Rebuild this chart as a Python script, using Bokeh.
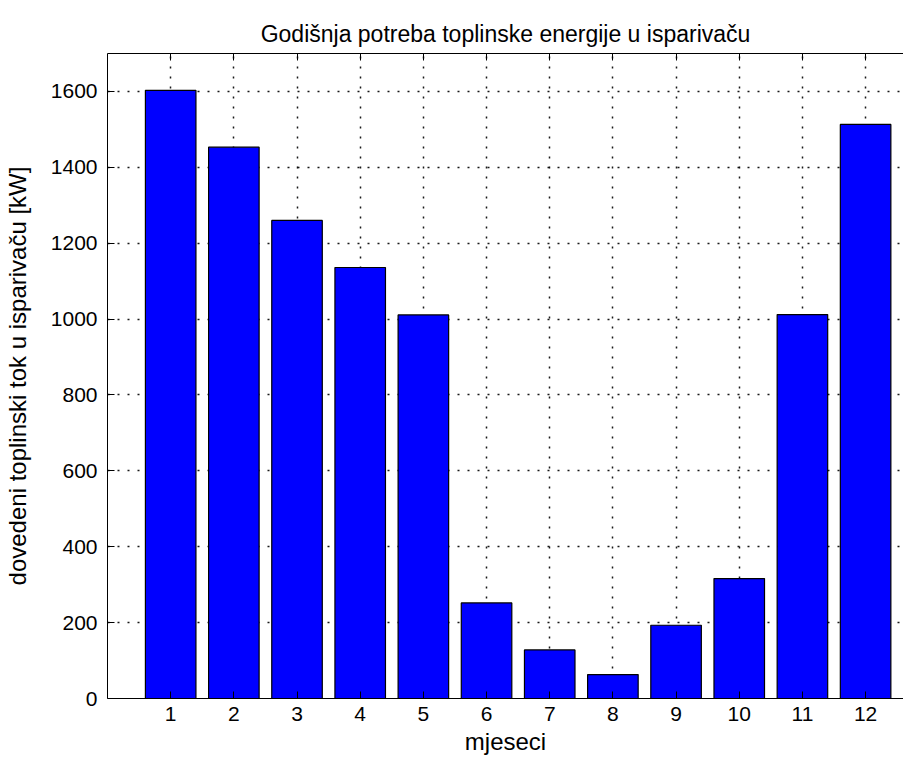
from bokeh.plotting import figure
from bokeh.models import LinearAxis, FixedTicker, Range1d, ColumnDataSource
from bokeh.embed import file_html
from bokeh.resources import INLINE

months = [1, 2, 3, 4, 5, 6, 7, 8, 9, 10, 11, 12]
heat_flow_kw = [1603, 1453, 1260, 1136, 1011, 252, 128, 63, 193, 316, 1012, 1513]
y_ticks = [0, 200, 400, 600, 800, 1000, 1200, 1400, 1600]

title_text = "Godišnja potreba toplinske energije u isparivaču"
x_label = "mjeseci"
y_label = "dovedeni toplinski tok u isparivaču [kW]"

FONT = "Liberation Sans"

src = ColumnDataSource(dict(x=months, top=heat_flow_kw))

p = figure(width=903, height=760, output_backend="svg", toolbar_location=None,
           x_range=Range1d(0, 12.6), y_range=Range1d(0, 1700),
           min_border_left=104, min_border_right=0, min_border_top=53, min_border_bottom=62,
           title=title_text)

p.title.align = "center"
p.title.text_font = FONT
p.title.text_font_size = "23px"
p.title.text_font_style = "normal"
p.title.text_color = "black"
p.title.standoff = 14

p.outline_line_color = None
p.background_fill_color = "white"
p.border_fill_color = "white"

p.vbar(x="x", top="top", width=0.8, bottom=0, source=src,
       fill_color="#0000FF", line_color="black", line_width=1.2)

for ax in (p.xaxis[0], p.yaxis[0]):
    ax.major_tick_in = 7
    ax.major_tick_out = 0
    ax.minor_tick_line_color = None
    ax.axis_line_color = "black"
    ax.major_tick_line_color = "black"
    ax.major_label_text_font = FONT
    ax.major_label_text_font_size = "21px"
    ax.major_label_text_color = "black"
    ax.axis_label_text_font = FONT
    ax.axis_label_text_font_size = "24px"
    ax.axis_label_text_font_style = "normal"
    ax.axis_label_text_color = "black"

p.xaxis[0].ticker = FixedTicker(ticks=months)
p.yaxis[0].ticker = FixedTicker(ticks=y_ticks)
p.xaxis[0].axis_label = x_label
p.yaxis[0].axis_label = y_label
p.xaxis[0].major_label_standoff = 8
p.xaxis[0].axis_label_standoff = 4
p.yaxis[0].major_label_standoff = 10
p.yaxis[0].axis_label_standoff = 17

top_axis = LinearAxis(ticker=FixedTicker(ticks=months))
top_axis.major_tick_in = 7
top_axis.major_tick_out = 0
top_axis.minor_tick_line_color = None
top_axis.axis_line_color = "black"
top_axis.major_label_text_font_size = "0px"
top_axis.major_label_text_color = None
top_axis.major_label_standoff = 0
p.add_layout(top_axis, "above")

for g in (p.xgrid[0], p.ygrid[0]):
    g.grid_line_color = "black"
    g.grid_line_dash = "2 8"
    g.grid_line_width = 1.5
    g.grid_line_alpha = 0.9
p.xgrid[0].ticker = FixedTicker(ticks=months)
p.ygrid[0].ticker = FixedTicker(ticks=y_ticks)

open("out.html", "w").write(file_html(p, INLINE))
